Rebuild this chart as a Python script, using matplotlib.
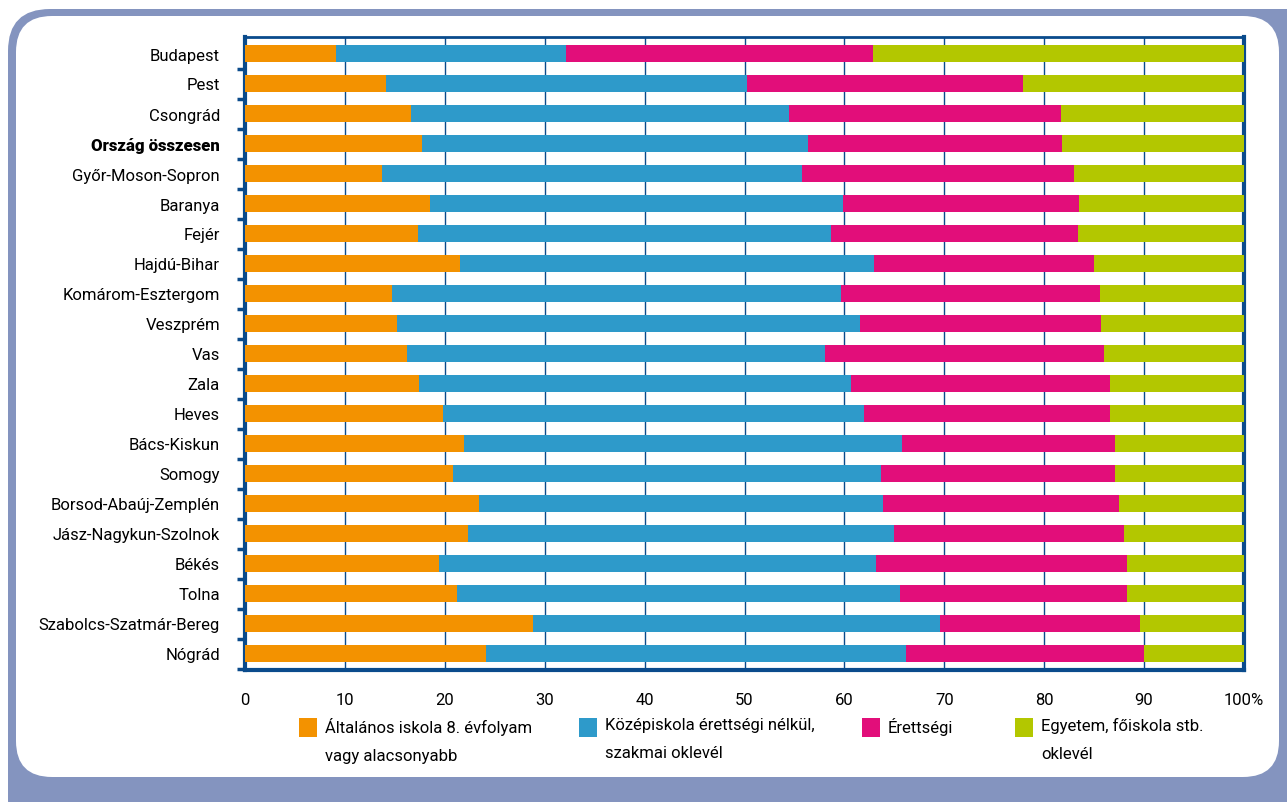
import matplotlib
matplotlib.use("Agg")
import matplotlib.pyplot as plt
from matplotlib.patches import FancyBboxPatch, Rectangle
import numpy as np

plt.rcParams['font.family'] = ['Roboto', 'DejaVu Sans']

CATEGORIES = [
    "Budapest", "Pest", "Csongrád", "Ország összesen", "Győr-Moson-Sopron",
    "Baranya", "Fejér", "Hajdú-Bihar", "Komárom-Esztergom", "Veszprém",
    "Vas", "Zala", "Heves", "Bács-Kiskun", "Somogy", "Borsod-Abaúj-Zemplén",
    "Jász-Nagykun-Szolnok", "Békés", "Tolna", "Szabolcs-Szatmár-Bereg", "Nógrád",
]

ALTALANOS = [9.1, 14.1, 16.6, 17.7, 13.7, 18.5, 17.3, 21.5, 14.7, 15.2,
             16.2, 17.4, 19.8, 21.9, 20.8, 23.4, 22.3, 19.4, 21.2, 28.8, 24.1]
KOZEPISKOLA = [23.0, 36.2, 37.9, 38.7, 42.1, 41.4, 41.4, 41.5, 45.0, 46.4,
               41.9, 43.3, 42.2, 43.9, 42.9, 40.5, 42.7, 43.8, 44.4, 40.8, 42.1]
ERETTSEGI = [30.8, 27.6, 27.2, 25.4, 27.2, 23.6, 24.7, 22.0, 25.9, 24.1,
             27.9, 25.9, 24.6, 21.3, 23.4, 23.6, 23.0, 25.1, 22.7, 20.0, 23.8]
EGYETEM = [37.1, 22.1, 18.3, 18.2, 17.0, 16.5, 16.6, 15.0, 14.4, 14.3,
           14.0, 13.4, 13.4, 12.9, 12.9, 12.5, 12.0, 11.7, 11.7, 10.4, 10.0]

SERIES_LABELS = [
    "Általános iskola 8. évfolyam\nvagy alacsonyabb",
    "Középiskola érettségi nélkül,\nszakmai oklevél",
    "Érettségi",
    "Egyetem, főiskola stb.\noklevél",
]
COLORS = ["#f39200", "#2e9aca", "#e20e7a", "#b3c700"]
X_TICKS = [0, 10, 20, 30, 40, 50, 60, 70, 80, 90, 100]
X_TICK_LABELS = ["0", "10", "20", "30", "40", "50", "60", "70", "80", "90", "100%"]

FRAME_COLOR = "#8494bf"
AXIS_COLOR = "#0a4b8c"
W, H = 1287, 803
LEGEND_X = [299, 579, 862, 1015]  # left edge of each key, px
LEGEND_TOP = 719

fig = plt.figure(figsize=(W / 100, H / 100), dpi=100)
fig.patch.set_facecolor("white")

# rounded frame (pixel coords -> inches)
tr = fig.dpi_scale_trans
outer = FancyBboxPatch((8 / 100, -40 / 100), 1340 / 100, (H - 10 + 40) / 100,
                       boxstyle="round,pad=0,rounding_size=0.42",
                       facecolor=FRAME_COLOR, edgecolor="none", transform=tr, zorder=-10)
inner = FancyBboxPatch((16 / 100, (H - 778) / 100), (1279 - 16) / 100, (778 - 17) / 100,
                       boxstyle="round,pad=0,rounding_size=0.36",
                       facecolor="white", edgecolor="none", transform=tr, zorder=-9)
fig.patches.extend([outer, inner])

ax = fig.add_axes([245 / W, 1 - 671 / H, (1244 - 245) / W, (671 - 38) / H])
ax.set_facecolor("white")

y = np.arange(len(CATEGORIES))
left = np.zeros(len(CATEGORIES))
for vals, color, label in zip([ALTALANOS, KOZEPISKOLA, ERETTSEGI, EGYETEM], COLORS, SERIES_LABELS):
    ax.barh(y, vals, left=left, height=0.56, color=color, label=label, zorder=3)
    left += np.array(vals)

ax.set_xlim(0, 100)
ax.set_ylim(len(CATEGORIES) - 0.45, -0.55)

ax.set_yticks(y)
ax.set_yticklabels(CATEGORIES, fontsize=12)
ax.set_yticks(np.arange(len(CATEGORIES)) + 0.5, minor=True)
ax.tick_params(axis="y", which="major", length=0, pad=18)
ax.tick_params(axis="y", which="minor", length=6, width=2.5, color=AXIS_COLOR, direction="out")
for lbl in ax.get_yticklabels():
    if lbl.get_text() == "Ország összesen":
        lbl.set_fontweight("heavy")

ax.set_xticks(X_TICKS)
ax.set_xticklabels(X_TICK_LABELS, fontsize=12)
ax.tick_params(axis="x", length=0, pad=16)

ax.grid(axis="x", color=AXIS_COLOR, linewidth=1.0, zorder=0)
ax.set_axisbelow(True)
for side, sp in ax.spines.items():
    sp.set_color(AXIS_COLOR)
    sp.set_linewidth(2.0 if side == "top" else 3.0)

# legend: square key aligned with the first text line
for x0, color, label in zip(LEGEND_X, COLORS, SERIES_LABELS):
    fig.patches.append(Rectangle((x0 / W, 1 - (LEGEND_TOP + 19) / H), 18 / W, 19 / H,
                                 transform=fig.transFigure, facecolor=color, edgecolor="none"))
    fig.text((x0 + 26) / W, 1 - (LEGEND_TOP - 1) / H, label, fontsize=12,
             ha="left", va="top", linespacing=2.1)

fig.savefig("out.png", dpi=100)
